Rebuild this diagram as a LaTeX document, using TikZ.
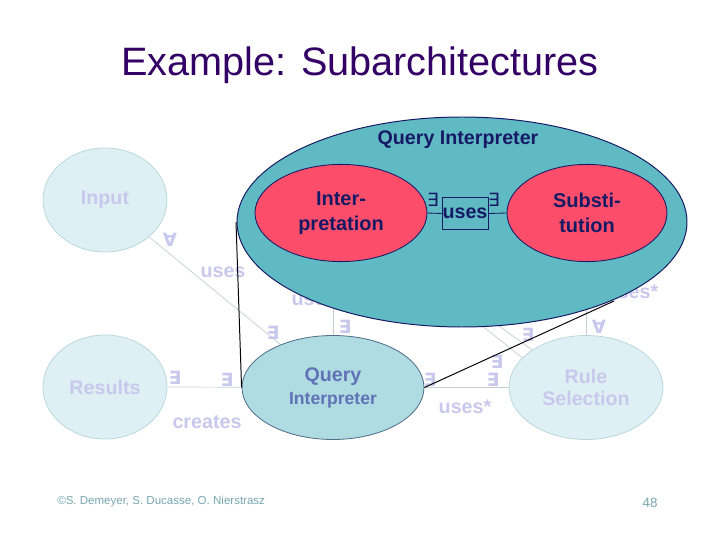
\documentclass[tikz,border=0pt]{standalone}
\usepackage{fontspec}
\setmainfont{Liberation Sans}
\newfontfamily\qfont{DejaVu Sans}
\usetikzlibrary{shapes.geometric}

\definecolor{titlecol}{RGB}{51,0,102}
\definecolor{navy}{RGB}{22,26,100}
\definecolor{fadetext}{RGB}{200,200,236}
\definecolor{fadeedge}{RGB}{182,212,218}
\definecolor{fadefill}{RGB}{222,240,244}
\definecolor{fadeline}{RGB}{198,204,210}
\definecolor{qifill}{RGB}{96,186,196}
\definecolor{qsmall}{RGB}{174,220,226}
\definecolor{qsmalledge}{RGB}{84,112,140}
\definecolor{qsmalltext}{RGB}{98,114,182}
\definecolor{rosered}{RGB}{252,78,106}
\definecolor{footcol}{RGB}{120,165,175}

\begin{document}
\begin{tikzpicture}[
  fadebubble/.style={ellipse, draw=fadeedge, fill=fadefill, line width=0.5pt,
    inner sep=0pt, minimum height=2.6cm, text=fadetext, align=center,
    font=\bfseries\fontsize{14}{16.3}\selectfont},
  fadelbl/.style={text=fadetext, inner sep=0pt, font=\bfseries\fontsize{14}{16}\selectfont},
  fadeq/.style={text=fadetext, inner sep=0pt, font=\qfont\bfseries\fontsize{13}{14}\selectfont},
  fadeln/.style={draw=fadeline, line width=0.5pt},
  subpart/.style={ellipse, draw=navy, fill=rosered, line width=0.6pt, inner sep=0pt,
    minimum height=2.43cm, text=navy, align=center,
    font=\bfseries\fontsize{14.2}{17.7}\selectfont},
  zoomln/.style={draw=black!90!navy, line width=0.7pt}
]
  \useasboundingbox (0,0) rectangle (18,13.5);

  % title
  \node[text=titlecol, font=\fontsize{28.2}{34}\selectfont] (title) at (9.0,11.875)
    {Example: Subarchitectures};

  % faded architecture underneath
  \node[fadebubble, minimum width=3.1cm] (input) at (2.625,8.5) {Input};
  \node[fadebubble, minimum width=3.1cm] (results) at (2.625,3.825) {Results};
  \node[fadebubble, minimum width=3.85cm] (rulesel) at (14.65,3.8125) {Rule\\Selection};

  % hidden ends sit inside the big ellipse
  \coordinate (interpc) at (8.525,8.175);
  \coordinate (substc) at (14.675,8.175);

  \draw[fadeln] (input.-40) -- (8.325,3.8125);
  \draw[fadeln] (results.east) -- (8.325,3.8125);
  \draw[fadeln] (8.325,3.8125) -- (rulesel.west);
  \draw[fadeln] (interpc) -- (rulesel.155);
  \draw[fadeln] (interpc) -- (rulesel.145);
  \draw[fadeln] (rulesel.north) -- (rulesel.north |- substc);

  % small query interpreter
  \node[ellipse, draw=qsmalledge, fill=qsmall, line width=0.6pt, inner sep=0pt,
    minimum width=4.55cm, minimum height=2.6cm, text=qsmalltext, align=center,
    font=\bfseries\fontsize{14}{16.3}\selectfont] (query) at (8.325,3.8125)
    {Query\\{\fontsize{12.5}{16.3}\selectfont Interpreter}};
  \draw[fadeln] (query.north) -- (query.north |- interpc);

  % faded labels
  \node[fadelbl] (usesA) at (5.575,6.7) {uses};
  \node[fadelbl] (usesB) at (7.85,6.0) {uses};
  \node[fadelbl] (creates) at (5.175,2.95) {creates};
  \node[fadelbl] (usesC) at (11.625,3.325) {uses*};
  \node[fadelbl] (usesD) at (15.8,6.2) {uses*};

  \node[fadeq] (qa) at (4.25,7.5) {∀};
  \node[fadeq] (qb) at (6.825,5.175) {∃};
  \node[fadeq] (qc) at (8.625,5.325) {∃};
  \node[fadeq] (qd) at (4.375,4.05) {∃};
  \node[fadeq] (qe) at (5.675,4.0) {∃};
  \node[fadeq] (qf) at (10.75,4.0) {∃};
  \node[fadeq] (qg) at (12.325,4.0) {∃};
  \node[fadeq] (qh) at (12.425,4.45) {∃};
  \node[fadeq] (qi) at (13.2,5.125) {∃};
  \node[fadeq] (qj) at (14.975,5.325) {∀};

  % zoomed subarchitecture
  \coordinate (qileft) at (5.9,7.95);
  \coordinate (qiright) at (15.35,5.975);
  \draw[zoomln] (query.west) -- (qileft);
  \draw[zoomln] (query.east) -- (qiright);

  \node[ellipse, draw=navy, fill=qifill, line width=0.7pt, inner sep=0pt,
    minimum width=11.25cm, minimum height=5.25cm] (qibig) at (11.55,7.95) {};
  \node[text=navy, font=\bfseries\fontsize{14}{16}\selectfont] (qilbl) at (11.45,10.0)
    {Query Interpreter};

  \node[subpart, minimum width=4.3cm] (interp) at (8.525,8.175) {Inter-\\pretation};
  \node[subpart, minimum width=4.0cm] (subst) at (14.675,8.175) {Substi-\\tution};
  \node[draw=navy, line width=0.6pt, minimum width=1.15cm, minimum height=0.78cm,
    inner sep=0pt, text=navy, font=\bfseries\fontsize{14}{16}\selectfont] (usesbox)
    at (11.625,8.1625) {uses};
  \draw[draw=navy, line width=0.6pt] (interp.east) -- (usesbox.west);
  \draw[draw=navy, line width=0.6pt] (usesbox.east) -- (subst.west);
  \node[text=navy, inner sep=0pt, font=\qfont\fontsize{13}{14}\selectfont] (qk) at (10.825,8.5) {∃};
  \node[text=navy, inner sep=0pt, font=\qfont\fontsize{13}{14}\selectfont] (ql) at (12.35,8.5) {∃};

  % footer
  \node[anchor=west, text=footcol, inner sep=0pt, font=\fontsize{8.2}{10}\selectfont] (credits)
    at (1.425,0.95) {©S. Demeyer, S. Ducasse, O. Nierstrasz};
  \node[text=footcol, inner sep=0pt, font=\fontsize{9.5}{11}\selectfont] (pageno)
    at (16.25,0.925) {48};
\end{tikzpicture}
\end{document}
